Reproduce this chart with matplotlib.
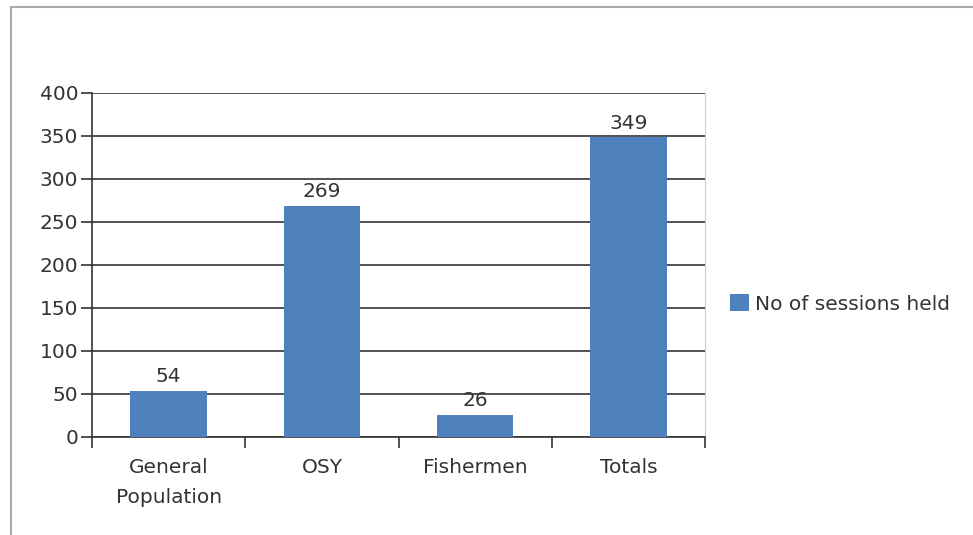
import matplotlib.pyplot as plt
from matplotlib.lines import Line2D
from matplotlib.patches import Patch

categories = ['General\nPopulation', 'OSY', 'Fishermen', 'Totals']
sessions = [54, 269, 26, 349]
series_name = 'No of sessions held'

bar_color = '#4F81BD'
text_color = '#333333'
fs = 14.5

plt.rcParams['font.family'] = ['DejaVu Sans']

fig = plt.figure(figsize=(9.73, 5.35), dpi=100)
ax = fig.add_axes([0.0946, 0.1832, 0.630, 0.643])

x = list(range(len(categories)))
ax.bar(x, sessions, width=0.5, color=bar_color, zorder=3)

for xi, v in zip(x, sessions):
    ax.text(xi, v + 5, str(v), ha='center', va='bottom', fontsize=fs, color=text_color)

ax.set_xlim(-0.5, len(categories) - 0.5)
ax.set_ylim(0, 400)
ax.set_yticks(range(0, 401, 50))
ax.yaxis.grid(True, color='#333333', linewidth=1.2, zorder=0)

# category boundary ticks on x axis
ax.set_xticks([i - 0.5 for i in range(len(categories) + 1)])
ax.set_xticklabels([])
ax.set_xticks(x, minor=True)
ax.set_xticklabels(categories, minor=True, fontsize=fs, color=text_color, linespacing=1.75)
ax.tick_params(axis='x', which='minor', length=0, pad=15)
ax.tick_params(axis='x', which='major', length=8, width=1.2, color='#333333')
ax.tick_params(axis='y', length=8, width=1.2, color='#333333', labelsize=fs,
               labelcolor=text_color, pad=2)

ax.spines['left'].set_color('#333333')
ax.spines['left'].set_linewidth(1.2)
ax.spines['bottom'].set_color('#333333')
ax.spines['bottom'].set_linewidth(1.2)
ax.spines['top'].set_visible(False)
ax.spines['right'].set_color('#cccccc')

handle = Patch(facecolor=bar_color, edgecolor='none')
fig.legend([handle], [series_name], loc='center left', bbox_to_anchor=(0.750, 0.432),
           frameon=False, fontsize=fs, handlelength=0.95, handleheight=0.95,
           handletextpad=0.3, borderpad=0, borderaxespad=0, labelcolor=text_color)

# outer frame (top and left edges visible)
fig.add_artist(Line2D([0.0113, 1.0], [0.987, 0.987], color='#aaaaaa', linewidth=1.5))
fig.add_artist(Line2D([0.0113, 0.0113], [0.0, 0.987], color='#aaaaaa', linewidth=1.5))

fig.savefig('out.png', dpi=100)
